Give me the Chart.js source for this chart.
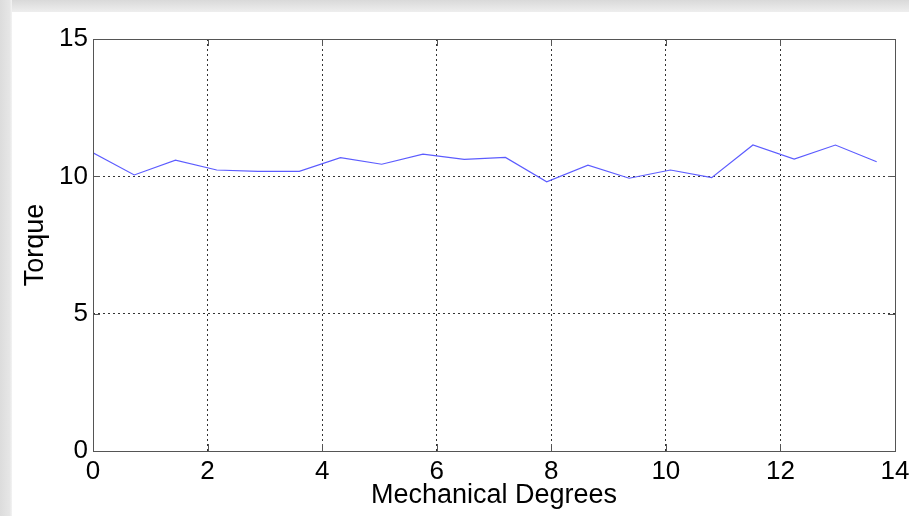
<!DOCTYPE html>
<html>
<head>
<meta charset="utf-8">
<script src="https://cdn.jsdelivr.net/npm/chart.js@4.4.1/dist/chart.umd.min.js"></script>
<style>
  html, body { margin: 0; padding: 0; background: #fff; }
  canvas { display: block; }
</style>
</head>
<body>
<canvas id="torqueCanvas" width="909" height="516"></canvas>
<script>
// values
const degrees = [0, 0.72, 1.44, 2.16, 2.88, 3.6, 4.32, 5.04, 5.76, 6.48,
                 7.2, 7.92, 8.64, 9.36, 10.08, 10.8, 11.52, 12.24, 12.96, 13.68]
const torque = [10.86, 10.05, 10.59, 10.23, 10.18, 10.18, 10.68, 10.44, 10.81, 10.62,
                10.69, 9.80, 10.41, 9.93, 10.23, 9.95, 11.14, 10.63, 11.14, 10.53]
const xTicks = [0, 2, 4, 6, 8, 10, 12, 14]
const yTicks = [0, 5, 10, 15]

const fontFamily = '"Liberation Sans", Arial, sans-serif'

// grey shadow strip along top / left edge + plot box with inward ticks
const frame = {
  id: 'frame',
  beforeDraw(chart) {
    const ctx = chart.ctx
    ctx.save()
    ctx.fillStyle = '#fff'
    ctx.fillRect(0, 0, chart.width, chart.height)
    let g = ctx.createLinearGradient(0, 0, 0, 12)
    g.addColorStop(0, '#d9d9d9')
    g.addColorStop(1, '#eeeeee')
    ctx.fillStyle = g
    ctx.fillRect(0, 0, chart.width, 12)
    g = ctx.createLinearGradient(0, 0, 12, 0)
    g.addColorStop(0, '#dcdcdc')
    g.addColorStop(0.8, '#e6e6e6')
    g.addColorStop(1, '#f3f3f3')
    ctx.fillStyle = g
    ctx.fillRect(0, 0, 12, chart.height)
    ctx.restore()
  },
  afterDatasetsDraw(chart) {
    const {ctx, chartArea: a, scales} = chart
    ctx.save()
    ctx.strokeStyle = '#555'
    ctx.lineWidth = 1
    ctx.strokeRect(Math.round(a.left) + 0.5, Math.round(a.top) + 0.5,
                   Math.round(a.right - a.left), Math.round(a.bottom - a.top))
    const len = 7
    ctx.beginPath()
    xTicks.forEach(v => {
      const px = Math.round(scales.x.getPixelForValue(v)) + 0.5
      ctx.moveTo(px, a.bottom); ctx.lineTo(px, a.bottom - len)
      ctx.moveTo(px, a.top); ctx.lineTo(px, a.top + len)
    })
    yTicks.forEach(v => {
      const py = Math.round(scales.y.getPixelForValue(v)) + 0.5
      ctx.moveTo(a.left, py); ctx.lineTo(a.left + len, py)
      ctx.moveTo(a.right, py); ctx.lineTo(a.right - len, py)
    })
    ctx.stroke()
    ctx.restore()
  }
}

const ctx = document.getElementById('torqueCanvas')
const chart = new Chart(ctx, {
  type: 'line',
  data: {
    datasets: [{
      data: degrees.map((d, i) => ({x: d, y: torque[i]})),
      borderColor: '#5c5cff',
      borderWidth: 1.2,
      pointRadius: 0,
      tension: 0,
      fill: false
    }]
  },
  options: {
    responsive: false,
    animation: false,
    devicePixelRatio: 1,
    layout: { padding: { top: 39, right: 14, bottom: 0, left: 0 } },
    plugins: { legend: { display: false }, tooltip: { enabled: false } },
    scales: {
      x: {
        type: 'linear',
        min: 0, max: 14,
        afterBuildTicks: s => { s.ticks = xTicks.map(v => ({value: v})) },
        afterFit: s => { s.height = 65; s.paddingLeft = 0; s.paddingRight = 0 },
        grid: { color: '#333', lineWidth: 1, drawTicks: false },
        // in v4 border.dash sets the dash of the grid lines
        border: { display: false, dash: [2, 3] },
        ticks: { color: '#000', padding: 5, maxRotation: 0, font: { family: fontFamily, size: 26 } },
        title: { display: true, text: 'Mechanical Degrees', color: '#000',
                 font: { family: fontFamily, size: 27, lineHeight: 1.2 }, padding: { top: 0, bottom: 4 } }
      },
      y: {
        min: 0, max: 15,
        afterBuildTicks: s => { s.ticks = yTicks.map(v => ({value: v})) },
        afterFit: s => { s.width = 93; s.paddingTop = 0; s.paddingBottom = 0 },
        grid: { color: '#333', lineWidth: 1, drawTicks: false },
        border: { display: false, dash: [2, 3] },
        ticks: { color: '#000', padding: 5, font: { family: fontFamily, size: 26 } },
        title: { display: true, text: 'Torque', color: '#000',
                 font: { family: fontFamily, size: 27, lineHeight: 1.2 }, padding: { top: 19, bottom: 0 } }
      }
    }
  },
  plugins: [frame]
})
</script>
</body>
</html>
